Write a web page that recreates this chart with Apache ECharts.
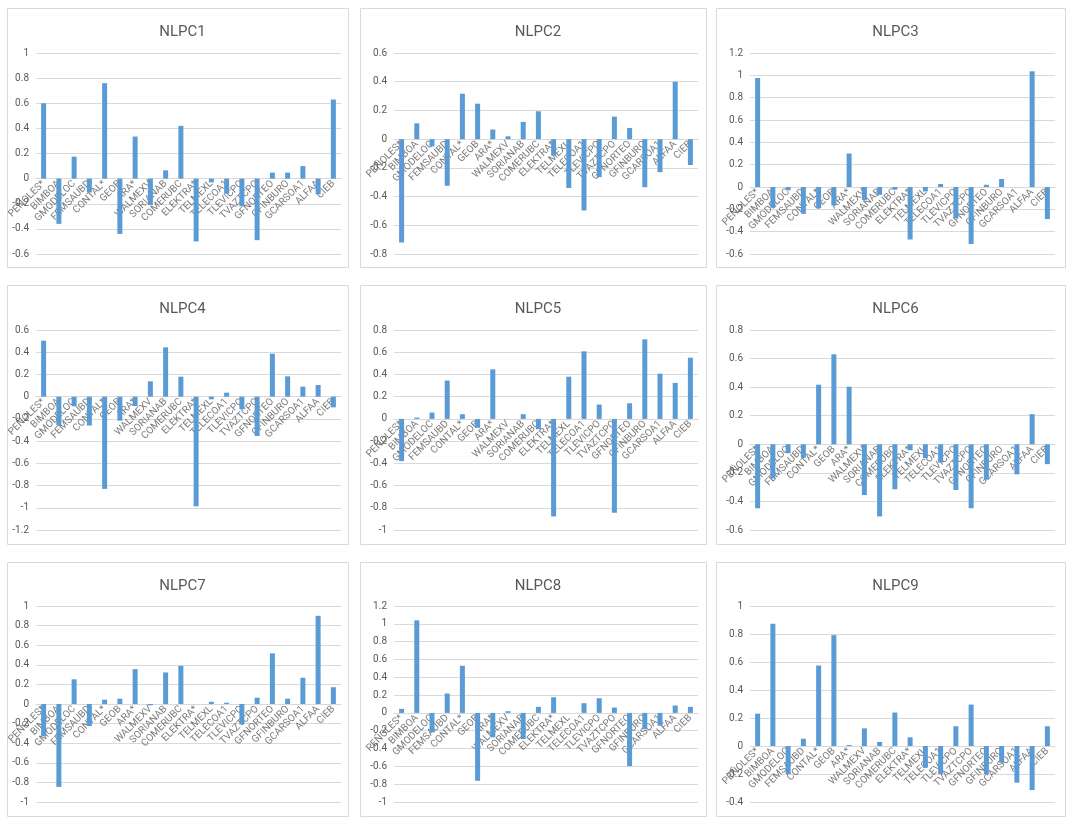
<!DOCTYPE html>
<html><head><meta charset="utf-8">
<script src="https://cdn.jsdelivr.net/npm/echarts@6/dist/echarts.min.js"></script>
<style>html,body{margin:0;background:#fff}#c{width:1074px;height:826px}</style>
</head><body><div id="c"></div><script>
const categories = ['PEÑOLES*','BIMBOA','GMODELOC','FEMSAUBD','CONTAL*','GEOB','ARA*','WALMEXV','SORIANAB','COMERUBC','ELEKTRA*','TELMEXL','TELECOA1','TLEVICPO','TVAZTCPO','GFNORTEO','GFINBURO','GCARSOA1','ALFAA','CIEB'];
const nlpc1 = [0.60,-0.36,0.175,-0.11,0.76,-0.44,0.335,-0.21,0.066,0.42,-0.50,-0.03,-0.12,-0.22,-0.49,0.048,0.048,0.10,-0.125,0.63];
const nlpc2 = [-0.72,0.11,-0.05,-0.325,0.316,0.247,0.067,0.02,0.12,0.194,-0.115,-0.34,-0.497,-0.265,0.157,0.078,-0.335,-0.23,0.40,-0.18];
const nlpc3 = [0.976,-0.185,-0.03,-0.24,-0.19,-0.165,0.30,-0.116,-0.07,-0.024,-0.47,-0.04,0.027,-0.28,-0.51,0.02,0.072,0,1.036,-0.287];
const nlpc4 = [0.504,-0.26,-0.087,-0.26,-0.83,-0.216,-0.084,0.138,0.444,0.18,-0.987,-0.024,0.036,-0.114,-0.354,0.387,0.183,0.09,0.105,-0.096];
const nlpc5 = [-0.38,0.012,0.057,0.345,0.042,-0.08,0.446,-0.002,0.042,-0.093,-0.878,0.38,0.608,0.129,-0.845,0.141,0.716,0.407,0.324,0.551];
const nlpc6 = [-0.448,-0.24,-0.063,-0.095,0.417,0.63,0.403,-0.355,-0.505,-0.315,-0.042,-0.097,-0.128,-0.32,-0.448,-0.248,0,-0.21,0.211,-0.139];
const nlpc7 = [-0.33,-0.846,0.252,-0.225,0.044,0.054,0.356,-0.013,0.322,0.389,0,0.023,0.013,-0.208,0.064,0.517,0.054,0.268,0.90,0.171];
const nlpc8 = [0.045,1.039,-0.218,0.218,0.529,-0.762,-0.274,0.019,-0.293,0.068,0.176,0,0.109,0.165,0.06,-0.596,-0.184,-0.143,0.083,0.068];
const nlpc9 = [0.231,0.873,-0.2,0.052,0.575,0.792,0.007,0.126,0.029,0.239,0.062,-0.155,-0.2,0.141,0.296,-0.2,-0.12,-0.262,-0.315,0.141];
const titles = ['NLPC1','NLPC2','NLPC3','NLPC4','NLPC5','NLPC6','NLPC7','NLPC8','NLPC9'];
const yMin = [-0.6,-0.8,-0.6,-1.2,-1,-0.6,-1,-1,-0.4];
const yMax = [1,0.6,1.2,0.6,0.8,0.8,1,1.2,1];
const allData = [nlpc1,nlpc2,nlpc3,nlpc4,nlpc5,nlpc6,nlpc7,nlpc8,nlpc9];

const panelX = [[7,348],[360,706],[716,1065]];
const panelY = [[8,267],[285,544],[562,816]];
const gridX = [[36,341],[394,698],[750,1055]];
const gridY = [[53,254],[330,530],[606,802]];
const W = 1074, H = 826;
const txt = '#595959', line = '#d9d9d9', bar = '#5b9bd5';
const font = 'Roboto, "Liberation Sans", sans-serif';

const option = {animation:false, backgroundColor:'#fff', title:[], grid:[], xAxis:[], yAxis:[], series:[], graphic:[]};
for (let i = 0; i < 9; i++) {
  const r = Math.floor(i/3), c = i%3;
  const px = panelX[c], py = panelY[r], gx = gridX[c], gy = gridY[r];
  option.graphic.push({type:'rect', shape:{x:px[0]+0.5,y:py[0]+0.5,width:px[1]-px[0],height:py[1]-py[0]}, style:{fill:'none',stroke:line,lineWidth:1}, silent:true, z:0});
  option.title.push({text:titles[i], left:(px[0]+px[1])/2, top:py[0]+12, textAlign:'center',
    textStyle:{fontSize:15, fontWeight:'normal', color:txt, fontFamily:font}});
  option.grid.push({left:gx[0], right:W-gx[1], top:gy[0], bottom:H-gy[1], containLabel:false});
  option.xAxis.push({type:'category', gridIndex:i, data:categories,
    axisLine:{onZero:true, lineStyle:{color:line}}, axisTick:{show:false},
    axisLabel:{show:false}});
  option.yAxis.push({type:'value', gridIndex:i, min:yMin[i], max:yMax[i], interval:0.2,
    axisLine:{show:false}, axisTick:{show:false},
    splitLine:{lineStyle:{color:line}},
    axisLabel:{fontSize:10, color:txt, margin:7, fontFamily:font, formatter:v=>String(+v.toFixed(1))}});
  // category labels sitting on the zero line, like the reference (drawn under the bars)
  option.series.push({type:'scatter', xAxisIndex:i, yAxisIndex:i, silent:true, z:1,
    data:categories.map(()=>0), symbolSize:1, itemStyle:{color:'rgba(0,0,0,0)'},
    label:{show:true, position:[0.5,4], align:'right', verticalAlign:'middle', rotate:45,
      fontSize:10, color:txt, fontFamily:font,
      formatter:p=>categories[p.dataIndex]}});
  option.series.push({type:'bar', xAxisIndex:i, yAxisIndex:i, data:allData[i], barWidth:5,
    itemStyle:{color:bar}, z:3});
}
const chart = echarts.init(document.getElementById('c'));
chart.setOption(option);
</script></body></html>
